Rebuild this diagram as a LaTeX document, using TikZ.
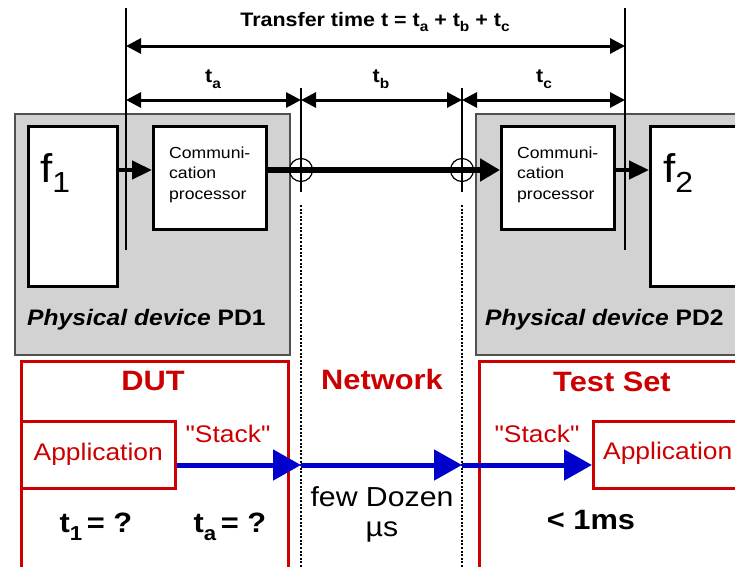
\documentclass[tikz,border=0pt]{standalone}
\usepackage{fontspec}
\setmainfont[FakeStretch=1.1,Ligatures=TeXOff]{Liberation Sans}
\usetikzlibrary{arrows.meta}
\definecolor{dutred}{HTML}{CC0000}
\definecolor{arrblue}{HTML}{0000CC}
\definecolor{devgray}{HTML}{D2D2D2}
\definecolor{devborder}{HTML}{505050}
\newcommand\lowsub[1]{\raisebox{-0.28em}{\scalebox{0.72}{#1}}}
\begin{document}
\begin{tikzpicture}[x=1pt,y=-1pt,
  devbox/.style={draw=devborder,line width=1.5pt,fill=devgray,anchor=north west,inner sep=0pt},
  wbox/.style={draw=black,line width=2.5pt,fill=white,anchor=north west,inner sep=0pt},
  redbox/.style={draw=dutred,line width=3pt,anchor=north west,inner sep=0pt},
  appbox/.style={draw=dutred,line width=2.5pt,fill=white,anchor=north west,inner sep=0pt},
  dimline/.style={line width=1.5pt},
  dimarrow/.style={line width=3pt,{Triangle[length=15pt,width=15pt]}-{Triangle[length=15pt,width=15pt]}},
  sigarrow/.style={line width=4.5pt,-{Triangle[length=20pt,width=18pt]}},
  mainarrow/.style={line width=6pt,-{Triangle[length=20pt,width=22pt]}},
  bluearrow/.style={line width=5pt,draw=arrblue,-{Triangle[length=28pt,width=30pt]},arrblue},
  netdots/.style={line width=2.5pt,dash pattern=on 2pt off 1.6pt},
  dimlabel/.style={font=\fontsize{19.5}{22}\selectfont\bfseries},
  redtitle/.style={font=\fontsize{28}{30}\selectfont\bfseries,text=dutred},
  redtext/.style={font=\fontsize{24}{26}\selectfont,text=dutred},
  bigtext/.style={font=\fontsize{27.5}{30}\selectfont},
  boldbig/.style={font=\fontsize{28}{30}\selectfont\bfseries},
  cptext/.style={font=\fontsize{16}{20.5}\selectfont,align=left},
  pdtext/.style={font=\fontsize{22.4}{24}\selectfont\bfseries,anchor=west,inner sep=0pt}
]
\useasboundingbox (0,0) rectangle (735,566);
\clip (0,0) rectangle (735,566);

% physical devices
\node[devbox,minimum width=275pt,minimum height=241pt] (pd1) at (14,113) {};
\node[devbox,minimum width=290pt,minimum height=241pt] (pd2) at (475,113) {};
\node[wbox,minimum width=89pt,minimum height=160pt] (f1) at (27,125) {};
\node[wbox,minimum width=113pt,minimum height=103pt] (cp1) at (152,125) {};
\node[wbox,minimum width=113pt,minimum height=103pt] (cp2) at (500,125) {};
\node[wbox,minimum width=110pt,minimum height=160pt] (f2) at (649,125) {};

\node[cptext] (cp1t) at ([yshift=3pt]cp1.center) {Communi-\\cation\\processor};
\node[cptext] (cp2t) at ([yshift=3pt]cp2.center) {Communi-\\cation\\processor};
\node[anchor=base west,inner sep=0pt,font=\fontsize{40}{40}\selectfont] (f1t) at (40,182) {f\raisebox{-10pt}{\fontsize{29}{29}\selectfont 1}};
\node[anchor=base west,inner sep=0pt,font=\fontsize{40}{40}\selectfont] (f2t) at (663,182) {f\raisebox{-10pt}{\fontsize{29}{29}\selectfont 2}};

\node[pdtext] (pd1t) at (27,320) {\textit{Physical device} PD1};
\node[pdtext] (pd2t) at (485,320) {\textit{Physical device} PD2};

% signal arrows
\draw[sigarrow] (f1.east |- 0,170) -- (cp1.west |- 0,170);
\draw[sigarrow] (cp2.east |- 0,170) -- (f2.west |- 0,170);
\draw[mainarrow] (cp1.east |- 0,170) -- (cp2.west |- 0,170);

% dimension lines
\coordinate (la) at (126,8);  \coordinate (lb) at (126,250);
\coordinate (ra) at (625,8);  \coordinate (rb) at (625,250);
\coordinate (ma) at (301,88); \coordinate (mb) at (301,192);
\coordinate (na) at (462,88); \coordinate (nb) at (462,192);
\draw[dimline] (la) -- (lb);
\draw[dimline] (ra) -- (rb);
\draw[dimline] (ma) -- (mb);
\draw[dimline] (na) -- (nb);
\draw[line width=1.2pt] (ma |- 0,170) circle[radius=11.5pt];
\draw[line width=1.2pt] (na |- 0,170) circle[radius=11.5pt];

\draw[dimarrow] (la |- 0,46) -- (ra |- 0,46);
\draw[dimarrow] (la |- 0,100) -- (ma |- 0,100);
\draw[dimarrow] (ma |- 0,100) -- (na |- 0,100);
\draw[dimarrow] (na |- 0,100) -- (ra |- 0,100);
\node[dimlabel] (tt) at (375,22) {Transfer time t = t\lowsub{a} + t\lowsub{b} + t\lowsub{c}};
\node[dimlabel] (tal) at (213,79) {t\lowsub{a}};
\node[dimlabel] (tbl) at (381,79) {t\lowsub{b}};
\node[dimlabel] (tcl) at (544,79) {t\lowsub{c}};

% network dotted lines
\coordinate (d1a) at (301,205); \coordinate (d1b) at (301,570);
\coordinate (d2a) at (462,205); \coordinate (d2b) at (462,570);
\draw[netdots] (d1a) -- (d1b);
\draw[netdots] (d2a) -- (d2b);

% DUT / Test set
\node[redbox,minimum width=267pt,minimum height=230pt] (dut) at (20,360) {};
\node[redbox,minimum width=290pt,minimum height=230pt] (ts) at (478,360) {};
\node[appbox,minimum width=154pt,minimum height=67pt] (app1) at (20,420) {};
\node[appbox,minimum width=170pt,minimum height=67pt] (app2) at (592,420) {};
\node[redtext] (app1t) at (app1.center) {Application};
\node[redtext,anchor=west,inner sep=0pt] (app2t) at (603,453) {Application};

\node[redtitle] (dutt) at (153,381) {DUT};
\node[redtitle] (nett) at (382,379) {Network};
\node[redtitle] (tst) at (612,382) {Test Set};

\node[redtext] (st1) at (228,434) {"Stack"};
\node[redtext] (st2) at (537,434) {"Stack"};

\coordinate (b1) at (301,465);
\coordinate (b2) at (462,465);
\draw[bluearrow] (app1.east |- 0,465) -- (b1);
\draw[bluearrow] (b1) -- (b2);
\draw[bluearrow] (b2) -- (app2.west |- 0,465);

\node[bigtext] (few) at (382,497) {few Dozen};
\node[bigtext] (mus) at (382,532) {µs};
\node[boldbig] (t1q) at (96,527) {t\lowsub{1}\,= ?};
\node[boldbig] (taq) at (230,527) {t\lowsub{a}\,= ?};
\node[boldbig] (lt) at (591,520) {< 1ms};
\end{tikzpicture}
\end{document}
